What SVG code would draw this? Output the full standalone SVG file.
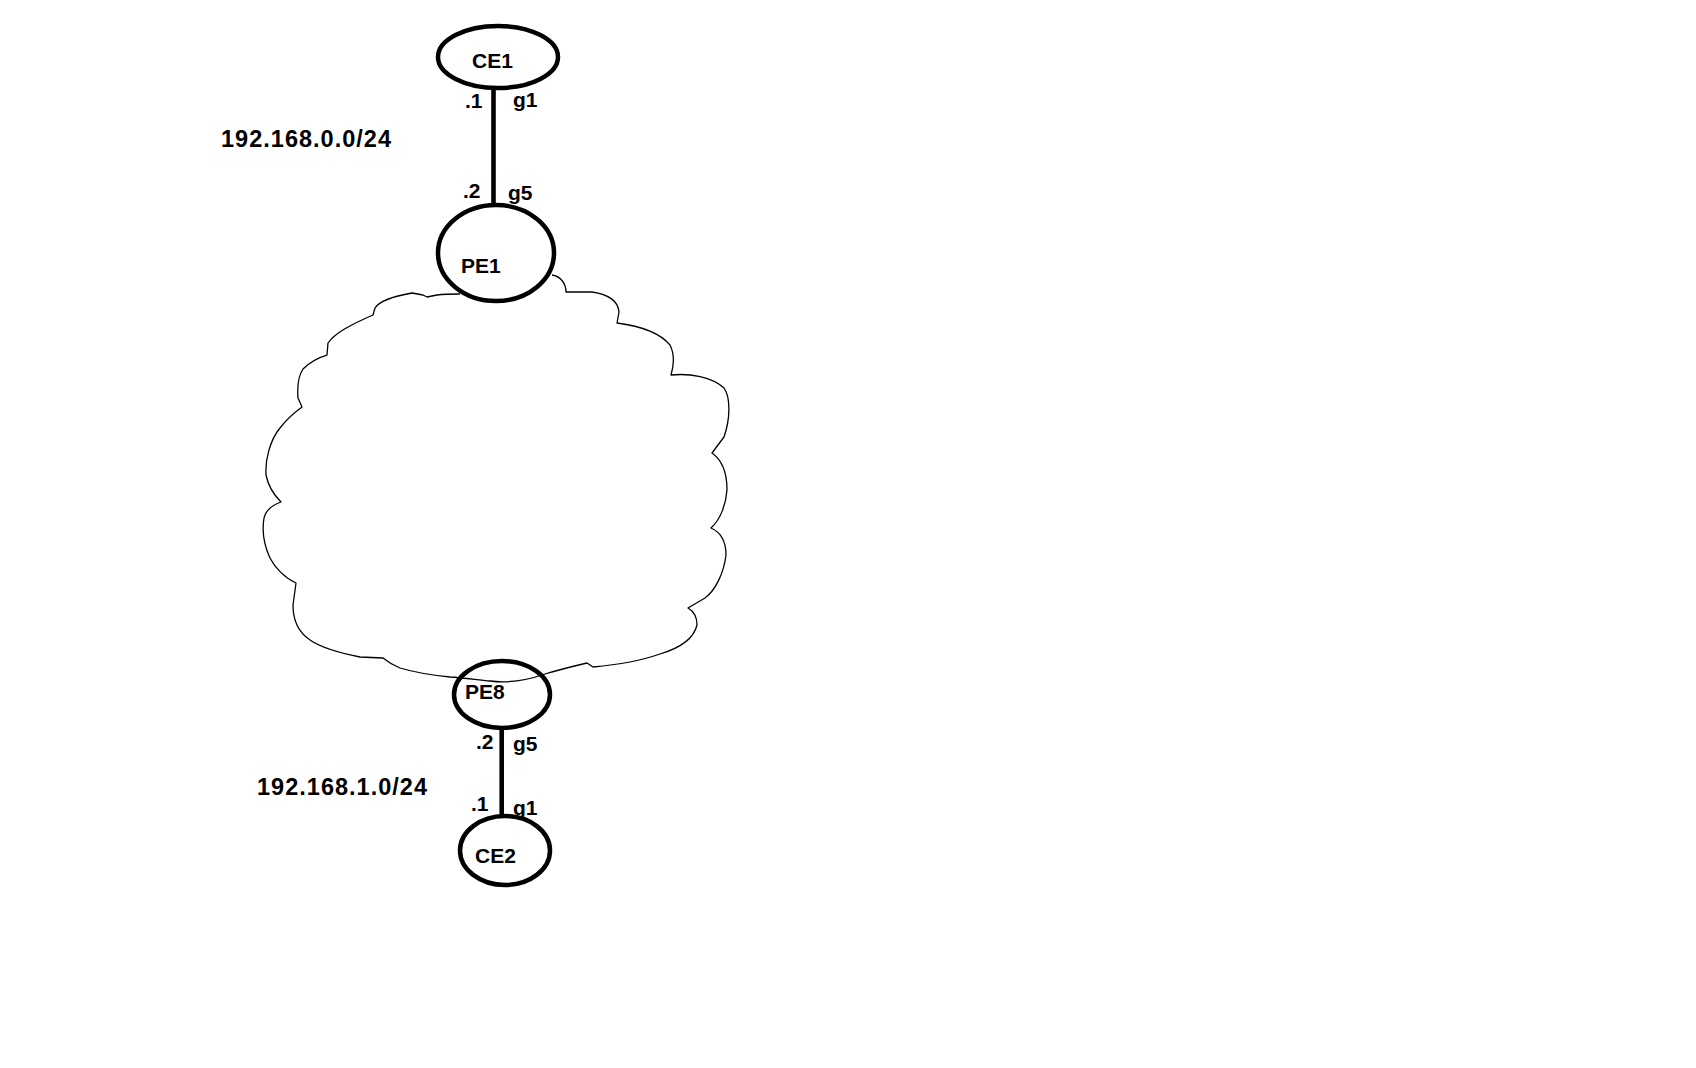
<svg xmlns="http://www.w3.org/2000/svg" width="1696" height="1068" viewBox="0 0 1696 1068">
  <style>
    .node { fill: none; stroke: #000; stroke-width: 4.5; }
    .link { stroke: #000; stroke-width: 4.6; fill: none; }
    .cloud { fill: none; stroke: #000; stroke-width: 1.3; stroke-linejoin: round; }
    .lbl { font-family: "Liberation Sans", Arial, sans-serif; font-weight: bold; font-size: 21px; fill: #000; }
    .net { font-family: "Liberation Sans", Arial, sans-serif; font-weight: bold; font-size: 23.5px; fill: #000; }
  </style>
  <rect width="1696" height="1068" fill="#fff"/>

  <!-- provider core cloud -->
  <g id="core-cloud">
    <path class="cloud" d="M552,275 C560,276 566,283 566,292 L592,292 C606,294 618,300 619,312 L617,323
      C640,326 660,333 670,345 C675,355 674,365 671,375
      C690,373 712,377 724,388 C731,398 730,420 724,437 L712,453
      C722,460 727,472 727,490 C726,505 720,520 711,528
      C720,532 726,540 726,555 C724,572 716,590 705,598 L688,608
      C695,612 697,618 697,625 C694,638 680,648 660,654 C640,661 615,665 593,667 L587,663
      C570,667 555,671 545,674 C525,681 505,683 490,681 C478,680 465,678 450,677
      C430,675 410,671 400,668 C392,665 388,662 383,658
      L360,657 C340,653 320,647 310,640 C298,632 293,620 293,605 L296,583
      C285,578 275,568 270,558 C264,545 262,530 264,518 C266,510 272,505 281,502
      C274,495 268,485 266,475 C265,460 270,440 280,428 C290,415 298,410 302,407
      L298,398 C297,385 299,375 303,369 C310,362 320,357 327,355
      L328,343 C335,333 350,325 373,315
      L375,308 C380,300 395,296 412,293 L423,295 L427,297 L437,295 C445,294 455,294 460,294"/>
  </g>

  <!-- links -->
  <g id="connectors">
    <line class="link" x1="493.5" y1="89" x2="493.5" y2="205"/>
    <line class="link" x1="501.7" y1="728" x2="501.7" y2="816"/>
  </g>

  <g id="CE1">
    <ellipse class="node" cx="498" cy="57" rx="60" ry="31"/>
    <text class="lbl" x="472" y="68">CE1</text>
  </g>

  <g id="PE1">
    <ellipse class="node" cx="496" cy="253" rx="58" ry="48"/>
    <text class="lbl" x="461" y="273">PE1</text>
  </g>

  <g id="PE8">
    <ellipse class="node" cx="502" cy="694.5" rx="48" ry="33.5"/>
    <text class="lbl" x="465" y="699">PE8</text>
  </g>

  <g id="CE2">
    <ellipse class="node" cx="505" cy="850.5" rx="45" ry="34.5"/>
    <text class="lbl" x="475" y="863">CE2</text>
  </g>

  <!-- interface / address labels -->
  <g id="labels">
    <text class="net" x="221" y="147" textLength="170" lengthAdjust="spacing">192.168.0.0/24</text>
    <text class="lbl" x="465" y="108">.1</text>
    <text class="lbl" x="513" y="107">g1</text>
    <text class="lbl" x="463" y="198">.2</text>
    <text class="lbl" x="508" y="200">g5</text>

    <text class="net" x="257" y="795" textLength="170" lengthAdjust="spacing">192.168.1.0/24</text>
    <text class="lbl" x="476" y="749">.2</text>
    <text class="lbl" x="513" y="751">g5</text>
    <text class="lbl" x="471" y="811">.1</text>
    <text class="lbl" x="513" y="815">g1</text>
  </g>
</svg>
